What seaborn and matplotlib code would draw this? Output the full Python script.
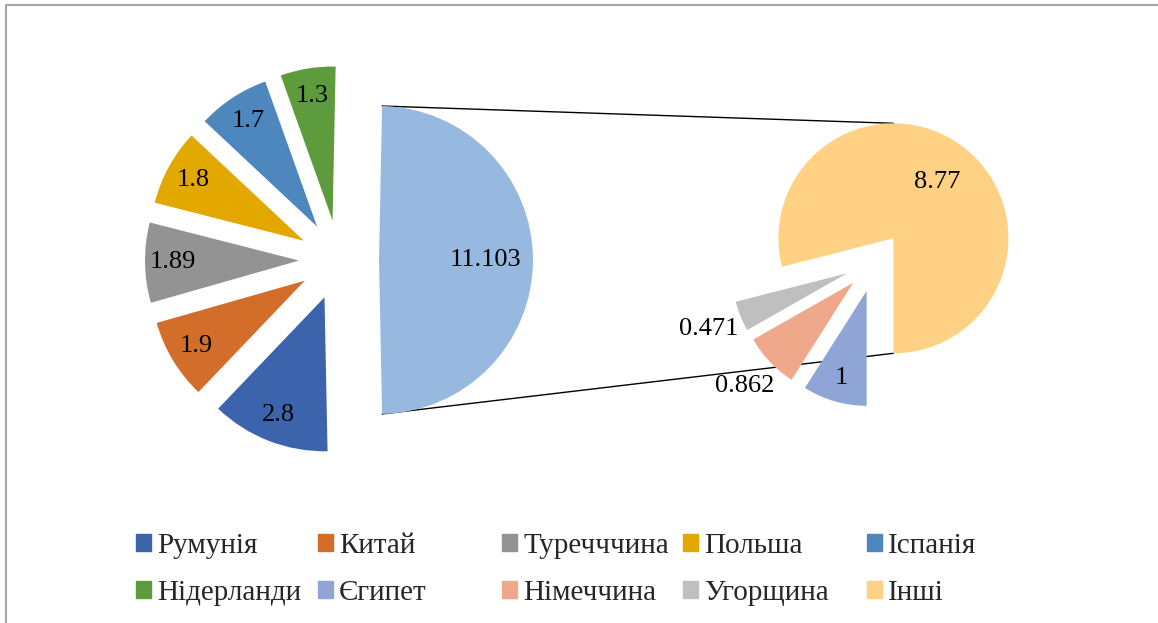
import numpy as np
import matplotlib.pyplot as plt
import matplotlib.patches as mpatches
import seaborn as sns

# main pie (countries) and the "pie of pie" breakdown of the last slice
main_labels = ['Румунія', 'Китай', 'Туречччина', 'Польша', 'Іспанія', 'Нідерланди']
main_values = [2.8, 1.9, 1.89, 1.8, 1.7, 1.3]
sub_labels = ['Єгипет', 'Німеччина', 'Угорщина', 'Інші']
sub_values = [1, 0.862, 0.471, 8.77]

main_colors = ['#3C64AD', '#D26E2A', '#939393', '#E2A800', '#4E87BE', '#5E9B3C']
sub_colors = ['#8FA5D5', '#F0A88A', '#BFBFBF', '#FFD184']
other_color = '#97B8DF'

sns.set_style('white')
plt.rcParams['font.family'] = ['Liberation Serif', 'DejaVu Serif']
FS = 19
LFS = 21

W, H = 1158, 623
fig = plt.figure(figsize=(W / 100, H / 100), dpi=100)
ax = fig.add_axes([0, 0, 1, 1])

other_value = sum(sub_values)
total = sum(main_values) + other_value

### main pie
r1, ex1 = 154, 40
vals1 = main_values + [other_value]
w1, _ = ax.pie(vals1, colors=main_colors + [other_color], radius=r1, center=(339, 363),
               startangle=-180 * other_value / total, counterclock=False,
               explode=[ex1] * len(vals1), frame=True,
               wedgeprops=dict(linewidth=0, zorder=3))

### secondary pie
r2, ex2 = 115, 30
w2, _ = ax.pie(sub_values, colors=sub_colors, radius=r2, center=(875, 361),
               startangle=-90, counterclock=False,
               explode=[ex2] * len(sub_values), frame=True,
               wedgeprops=dict(linewidth=0, zorder=3))


def put_label(w, val, dist):
    ang = np.deg2rad((w.theta1 + w.theta2) / 2)
    cx, cy = w.center
    ax.text(cx + dist * w.r * np.cos(ang), cy + dist * w.r * np.sin(ang), f'{val:g}',
            ha='center', va='center', fontsize=FS, color='black', zorder=5)


for w, v in zip(w1, vals1):
    put_label(w, v, 0.69 if v == other_value else 0.82)
for w, v, d in zip(w2, sub_values, [0.79, 1.3, 1.3, 0.62]):
    put_label(w, v, d)

# connector lines between the two pies
big = w1[-1]
rest = w2[-1]
for th, sgn in [(big.theta2, 1), (big.theta1, -1)]:
    x0 = big.center[0] + big.r * np.cos(np.deg2rad(th))
    y0 = big.center[1] + big.r * np.sin(np.deg2rad(th))
    x1, y1 = rest.center[0], rest.center[1] + sgn * rest.r
    ax.plot([x0, x1], [y0, y1], color='black', lw=1, zorder=2)

# chart frame (only top and left visible)
ax.plot([6, 6, W], [0, H - 5, H - 5], color='#A6A6A6', lw=1.5, zorder=1, clip_on=False)

ax.set_xlim(0, W)
ax.set_ylim(0, H)
ax.set_aspect('equal')
ax.axis('off')

### legend: 5 columns, 2 rows
handles = [mpatches.Patch(color=c, label=l)
           for c, l in zip(main_colors + sub_colors, main_labels + sub_labels)]
col_x = [136, 318, 502, 683, 867]
for i, x in enumerate(col_x):
    fig.legend(handles=[handles[i], handles[i + 5]], loc='upper left',
               bbox_to_anchor=(x / W, (H - 533) / H), frameon=False,
               fontsize=LFS, handlelength=0.52, handleheight=0.52,
               handletextpad=0.2, labelspacing=0.72, borderpad=0, borderaxespad=0)

fig.savefig('out.png', dpi=100)
